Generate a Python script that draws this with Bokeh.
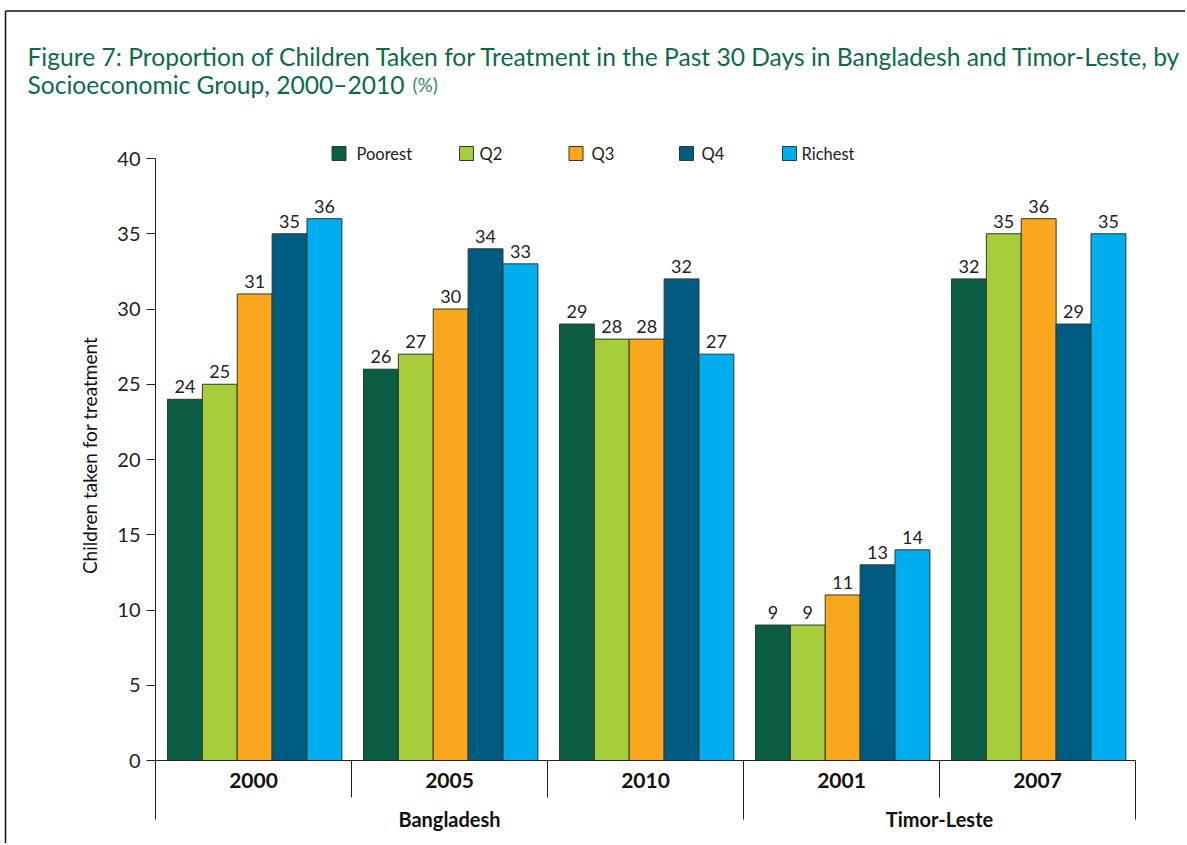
import math
from bokeh.plotting import figure
from bokeh.models import ColumnDataSource, LinearAxis, FixedTicker, Range1d
from bokeh.core.properties import value
from bokeh.embed import file_html
from bokeh.resources import INLINE

# ---------------- data ----------------
countries = ["Bangladesh", "Timor-Leste"]
years = ["2000", "2005", "2010", "2001", "2007"]
year_country = ["Bangladesh", "Bangladesh", "Bangladesh", "Timor-Leste", "Timor-Leste"]
quintiles = ["Poorest", "Q2", "Q3", "Q4", "Richest"]
poorest = [24, 26, 29, 9, 32]
q2 = [25, 27, 28, 9, 35]
q3 = [31, 30, 28, 11, 36]
q4 = [35, 34, 32, 13, 29]
richest = [36, 33, 27, 14, 35]
y_ticks = [0, 5, 10, 15, 20, 25, 30, 35, 40]
title_line1 = "Figure 7: Proportion of Children Taken for Treatment in the Past 30 Days in Bangladesh and Timor-Leste, by"
title_line2 = "Socioeconomic Group, 2000\u20132010"
title_unit = "(%)"
y_label = "Children taken for treatment"

# ---------------- style ----------------
colors = ["#0b5e45", "#a6cd3a", "#f9a81d", "#005b80", "#00adef"]
FONT = "Lato"
TXT = "#222222"
TITLE_C = "#0c6a4c"

# page-pixel layout helpers (layout only)
FIG_X, FIG_Y, W, H = 0, 0, 1185, 843
PX0, PXU = 155.0, 196.0      # page x of data x=0, px per group
PY0, PYU = 760.0, 15.05      # page y of value 0, px per unit


def X(px):
    return (px - PX0) / PXU


def Y(py):
    return (PY0 - py) / PYU


p = figure(width=W, height=H,
           x_range=Range1d(X(FIG_X), X(FIG_X + W)),
           y_range=Range1d(Y(FIG_Y + H), Y(FIG_Y)),
           output_backend="svg", toolbar_location=None,
           x_axis_location=None, y_axis_location=None,
           min_border=0, outline_line_color=None,
           background_fill_color="white", border_fill_color="white")
for g in p.grid:
    g.visible = False

# y axis at x = 0
yaxis = LinearAxis(fixed_location=0, ticker=FixedTicker(ticks=y_ticks),
                   axis_line_color=None,
                   major_tick_out=9, major_tick_in=0,
                   major_tick_line_color=TXT, major_tick_line_width=1,
                   minor_tick_line_color=None,
                   major_label_standoff=6,
                   major_label_text_font=FONT,
                   major_label_text_font_size="20px",
                   major_label_text_color=TXT)
p.add_layout(yaxis, "left")

# bars
series = [poorest, q2, q3, q4, richest]
BW = 0.178
xs, tops, cols, labs = [], [], [], []
for k, vals in enumerate(series):
    for g, v in enumerate(vals):
        xs.append(g + 0.5 + 0.006 + (k - 2) * BW)
        tops.append(v)
        cols.append(colors[k])
        labs.append(str(v))
src = ColumnDataSource(dict(x=xs, top=tops, color=cols, label=labs))
p.vbar(x="x", top="top", bottom=0, width=BW, fill_color="color",
       line_color="#2b3a34", line_width=1, source=src)
p.text(x="x", y="top", text="label", source=src, text_align="center",
       text_baseline="bottom", y_offset=-6, text_font=value(FONT),
       text_font_size="18px", text_color=TXT)

# axis lines and separators
n = len(years)
p.segment(x0=[0], y0=[Y(819)], x1=[0], y1=[max(y_ticks)], line_color=TXT, line_width=1)
p.segment(x0=[0], y0=[0], x1=[n], y1=[0], line_color=TXT, line_width=1)
sep_x, sep_y = [], []
for i in range(1, n + 1):
    long_sep = (i == n) or (year_country[i - 1] != year_country[i])
    sep_x.append(i)
    sep_y.append(Y(819) if long_sep else Y(797))
p.segment(x0=sep_x, y0=[0] * len(sep_x), x1=sep_x, y1=sep_y, line_color=TXT, line_width=1)

# year labels
p.text(x=[g + 0.5 for g in range(n)], y=[Y(780)] * n, text=years,
       text_align="center", text_baseline="middle", text_font=value(FONT),
       text_font_size="21px", text_font_style="bold", text_color="#111111")
# country labels
cx = []
for c in countries:
    idx = [i for i, yc in enumerate(year_country) if yc == c]
    cx.append((min(idx) + max(idx) + 1) / 2)
p.text(x=cx, y=[Y(818)] * len(cx), text=countries, text_align="center",
       text_baseline="middle", text_font=value(FONT), text_font_size="20px",
       text_font_style="bold", text_color="#111111")

# y axis label
p.text(x=[X(89)], y=[Y(455)], text=[y_label], angle=math.pi / 2,
       text_align="center", text_baseline="middle", text_font=value(FONT),
       text_font_size="19px", text_color="#111111")

# legend (manual)
leg_sq_x = [338.5, 466, 575.5, 686, 789]
leg_tx_x = [356, 479, 591, 701, 801]
p.scatter(x=[X(v) for v in leg_sq_x], y=[Y(153)] * 5, marker="square", size=14,
          fill_color=colors, line_color="#2b3a34", line_width=1)
p.text(x=[X(v) for v in leg_tx_x], y=[Y(153)] * 5, text=quintiles,
       text_align="left", text_baseline="middle", text_font=value(FONT),
       text_font_size="16.5px", text_color=TXT)

# title
p.text(x=[X(27)], y=[Y(56)], text=[title_line1], text_align="left",
       text_baseline="alphabetic", text_font=value(FONT), text_font_size="24.6px",
       text_color=TITLE_C)
p.text(x=[X(27)], y=[Y(84)], text=[title_line2], text_align="left",
       text_baseline="alphabetic", text_font=value(FONT), text_font_size="24.6px",
       text_color=TITLE_C)
p.text(x=[X(412)], y=[Y(84)], text=[title_unit], text_align="left",
       text_baseline="alphabetic", text_font=value(FONT), text_font_size="19px",
       text_color="#2f8a66")

# outer frame lines (top and left)
p.segment(x0=[X(5), X(5)], y0=[Y(10.5), Y(10.5)], x1=[X(FIG_X + W), X(5)],
          y1=[Y(10.5), Y(FIG_Y + H)], line_color="#111111", line_width=1.5)

open("out.html", "w").write(file_html(p, INLINE))
